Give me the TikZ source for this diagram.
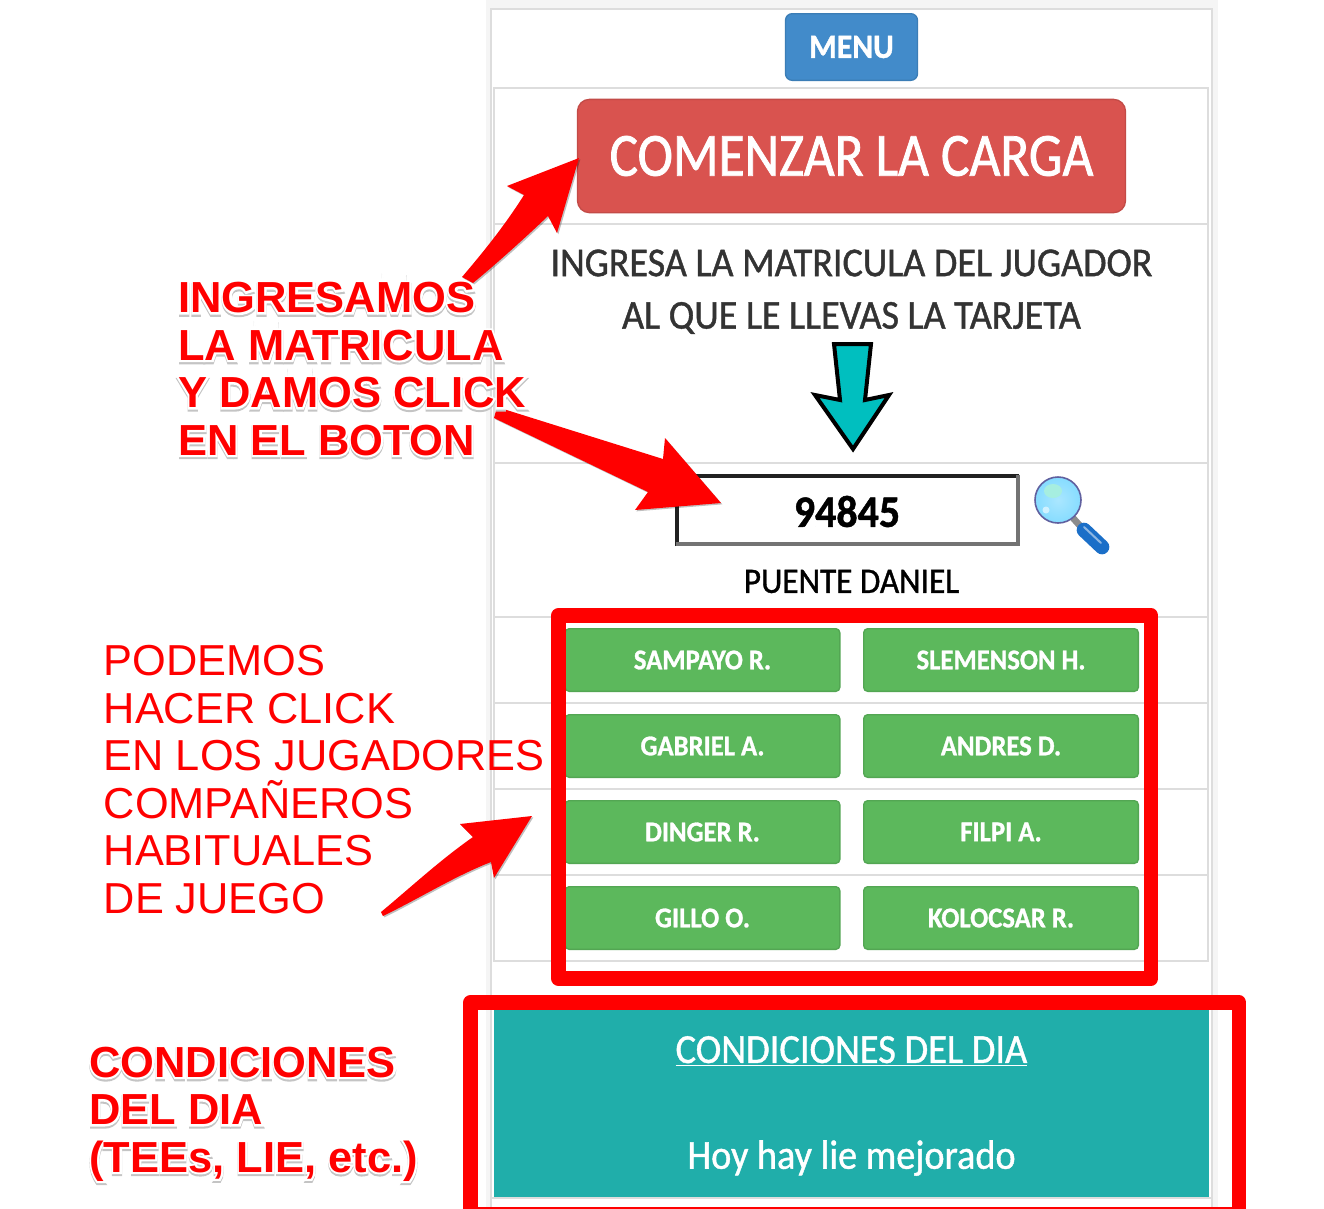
\documentclass[tikz,border=0pt]{standalone}
\usepackage{fontspec}
\usetikzlibrary{shadows}
\setmainfont{Carlito}[FakeStretch=0.93,FakeBold=1]
\newfontfamily\startfont[FakeStretch=0.87,FakeBold=1.2]{Carlito}
\newfontfamily\notefont{Liberation Sans}
\newfontfamily\notebold{Liberation Sans Bold}
\newfontfamily\halowhite[FakeBold=9,Color=FFFFFF]{Liberation Sans Bold}
\newfontfamily\haloshade[FakeBold=9,Color=C4C4C4]{Liberation Sans Bold}
\newcommand{\halo}[1]{\makebox[0pt][l]{\raisebox{-1.6pt}{\haloshade #1}}\makebox[0pt][l]{\halowhite #1}#1}
\definecolor{rowline}{HTML}{DDDDDD}
\definecolor{menublue}{HTML}{428BCA}
\definecolor{startred}{HTML}{D9534F}
\definecolor{playergreen}{HTML}{5CB85C}
\definecolor{dayteal}{HTML}{20AEAA}
\definecolor{downcyan}{HTML}{00BFBF}
\definecolor{lensblue}{HTML}{86DCFF}
\definecolor{handleblue}{HTML}{1B6FC8}
\tikzset{
    rowrule/.style = {
        rowline,
        line width=1.5pt
    },
    menubtn/.style = {
        draw=menublue!90!black,
        fill=menublue,
        line width=1pt,
        rounded corners=5pt,
        minimum width=99pt,
        minimum height=50pt,
        text=white,
        font=\fontsize{25.5}{29}\selectfont\bfseries
    },
    startbtn/.style = {
        draw=startred!90!black,
        fill=startred,
        line width=1pt,
        rounded corners=9pt,
        minimum width=411pt,
        minimum height=85pt,
        text=white,
        font=\fontsize{46}{52}\selectfont\startfont
    },
    playerbtn/.style = {
        draw=playergreen!90!black,
        fill=playergreen,
        line width=1pt,
        rounded corners=3pt,
        minimum width=206pt,
        minimum height=47pt,
        text=white,
        font=\fontsize{21.5}{25}\selectfont\bfseries
    },
    hint/.style = {
        text=black!80,
        font=\fontsize{30.7}{36}\selectfont
    },
    frame/.style = {
        draw=red,
        line width=11pt,
        line join=round
    },
    bigarrow/.style = {
        fill=red,
        draw=none,
        drop shadow={shadow xshift=1pt,shadow yshift=-1pt,opacity=0.25,fill=black}
    },
    note/.style = {
        text=red,
        anchor=west,
        align=left,
        inner sep=0pt
    }
}

\begin{document}
\begin{tikzpicture}[x=0.75pt,y=-0.75pt]
    \useasboundingbox (0,0) rectangle (1324,1208);

    % Draw the page behind the table
    \fill[black!4] (486,0) rectangle (1218,1208);
    \fill[white] (491,9) rectangle (1212,1208);
    \draw[rowline,line width=1pt] (491,1208) -- (491,9) -- (1212,9) -- (1212,1208);
    \draw[rowrule] (494,88) rectangle (1208,961);
    \draw[rowrule] (494,224) -- (1208,224);
    \draw[rowrule] (494,463) -- (1208,463);
    \draw[rowrule] (494,617) -- (1208,617);
    \draw[rowrule] (494,703) -- (1208,703);
    \draw[rowrule] (494,789) -- (1208,789);
    \draw[rowrule] (494,875) -- (1208,875);

    % Draw the top buttons
    \node[menubtn] (menu) at (851.5,47) {MENU};
    \node[startbtn] (start) at (851.5,156) {COMENZAR LA CARGA};

    % Draw the search row
    \node[hint] (askone) at (851.5,263) {INGRESA LA MATRICULA DEL JUGADOR};
    \node[hint] (asktwo) at (851.5,318) {AL QUE LE LLEVAS LA TARJETA};
    \filldraw[draw=black,fill=downcyan,line width=3pt,line join=miter]
        (834,344) -- (871,344) -- (865,400) -- (889,395) -- (853,449)
        -- (815,395) -- (840,400) -- cycle;
    \draw[line width=3pt,black!87] (677,546) -- (677,476) -- (1019,476);
    \draw[line width=3pt,black!55] (1018,475) -- (1018,544) -- (675.5,544);
    \node[font=\fontsize{33.8}{38}\selectfont\bfseries] (number) at (847,511.5) {94845};
    \node[font=\fontsize{26.8}{31}\selectfont] (name) at (851.5,581.5) {PUENTE DANIEL};

    % Draw the magnifying glass
    \draw[black!45,line width=5pt] (1073,518) -- (1082,528);
    \draw[handleblue,line width=11pt,line cap=round] (1084,530) -- (1102,547);
    \draw[white!50!handleblue,line width=1.5pt,line cap=round] (1084,527) -- (1101,543);
    \shade[inner color=lensblue!70,outer color=lensblue] (1058,500) circle (23);
    \fill[green!20!lensblue!60!white] (1053,491) ellipse (9 and 7);
    \fill[white!60!lensblue] (1046,510) circle (3.5);
    \draw[blue!25!gray,line width=1.2pt] (1058,500) circle (23);

    % Draw the players
    \node[playerbtn] (playera) at (702.5,660) {SAMPAYO R.};
    \node[playerbtn] (playerb) at (1001,660) {SLEMENSON H.};
    \node[playerbtn] (playerc) at (702.5,746) {GABRIEL A.};
    \node[playerbtn] (playerd) at (1001,746) {ANDRES D.};
    \node[playerbtn] (playere) at (702.5,832) {DINGER R.};
    \node[playerbtn] (playerf) at (1001,832) {FILPI A.};
    \node[playerbtn] (playerg) at (702.5,918) {GILLO O.};
    \node[playerbtn] (playerh) at (1001,918) {KOLOCSAR R.};

    % Draw the conditions box
    \fill[dayteal] (494,1010) rectangle (1209,1197);
    \draw[rowrule] (491,1198) -- (1212,1198);
    \node[text=white,font=\fontsize{31}{36}\selectfont] (daytitle) at (851.5,1051) {\underline{CONDICIONES DEL DIA}};
    \node[text=white,font=\fontsize{30.8}{36}\selectfont] (daytext) at (851.5,1158) {Hoy hay lie mejorado};

    % Draw the red frames
    \draw[frame] (558.5,615.5) rectangle (1151,978.5);
    \draw[frame] (470.5,1002.5) rectangle (1239,1214);

    % Draw the red arrows
    \fill[bigarrow] (579,158) -- (507,186) -- (524,195) .. controls (505,225) and (485,250) .. (462,277)
        -- (473,283) .. controls (495,265) and (525,238) .. (548,216) -- (557,233) -- cycle;
    \fill[bigarrow] (721,503) -- (665,438) -- (663,459) -- (497,407) -- (494,418)
        -- (648,492) -- (635,510) -- cycle;
    \fill[bigarrow] (532,816) -- (460,824) -- (473,837) .. controls (440,860) and (410,888) .. (381,912)
        -- (383,916) .. controls (420,898) and (455,876) .. (491,862) -- (494,878) -- cycle;

    % Draw the notes
    \node[note,font=\fontsize{32.6}{35.6}\selectfont\notebold] (enter) at (178,370)
        {\halo{INGRESAMOS}\\\halo{LA MATRICULA}\\\halo{Y DAMOS CLICK}\\\halo{EN EL BOTON}};
    \node[note,font=\fontsize{32.5}{35.6}\selectfont\notefont] (mates) at (103.5,779.5)
        {PODEMOS\\HACER CLICK\\EN LOS JUGADORES\\COMPAÑEROS\\HABITUALES\\DE JUEGO};
    \node[note,font=\fontsize{32.6}{35.6}\selectfont\notebold] (terms) at (89,1115)
        {\halo{CONDICIONES}\\\halo{DEL DIA}\\\halo{(TEEs, LIE, etc.)}};
\end{tikzpicture}
\end{document}
